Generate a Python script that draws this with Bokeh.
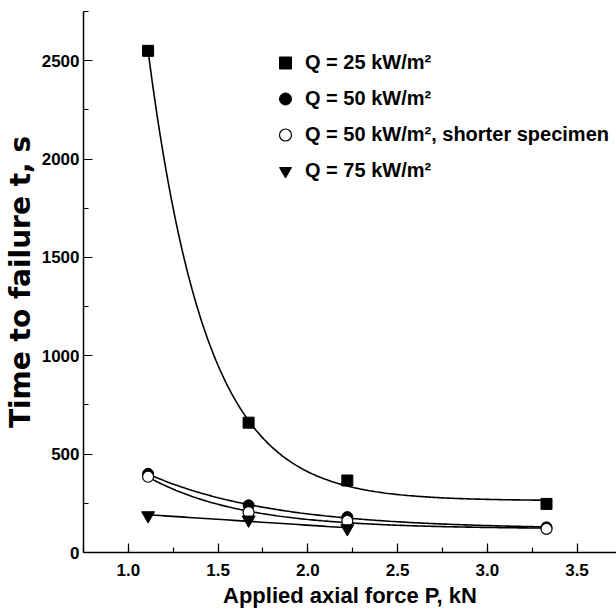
import numpy as np
from bokeh.plotting import figure
from bokeh.models import Range1d, Legend, LegendItem, SingleIntervalTicker, NumeralTickFormatter
from bokeh.embed import file_html
from bokeh.resources import INLINE

# Applied axial force (kN) and measured time to failure (s)
force = [1.11, 1.67, 2.22, 3.33]
t_q25 = [2550, 660, 366, 247]
t_q50 = [400, 240, 180, 128]
t_q50_short = [385, 205, 160, 120]
force_q75 = [1.11, 1.67, 2.22]
t_q75 = [188, 166, 122]

labels = [
    "Q = 25 kW/m²",
    "Q = 50 kW/m²",
    "Q = 50 kW/m², shorter specimen",
    "Q = 75 kW/m²",
]

SANS = "'Liberation Sans', Arial, sans-serif"


def exp_decay_fit(x, y, n=200):
    """Least-squares fit of y = y0 + a*exp(-(x - x0)/tau), scanning tau."""
    x = np.asarray(x, float)
    y = np.asarray(y, float)
    best = None
    for tau in np.linspace(0.05, 3.0, 3000):
        basis = np.column_stack([np.ones_like(x), np.exp(-(x - x[0]) / tau)])
        coef, *_ = np.linalg.lstsq(basis, y, rcond=None)
        err = float(np.sum((basis @ coef - y) ** 2))
        if best is None or err < best[0]:
            best = (err, tau, coef)
    _, tau, (y0, a) = best
    xs = np.linspace(x[0], x[-1], n)
    return xs, y0 + a * np.exp(-(xs - x[0]) / tau)


def linear_fit(x, y, n=50):
    k, b = np.polyfit(np.asarray(x, float), np.asarray(y, float), 1)
    xs = np.linspace(min(x), max(x), n)
    return xs, k * xs + b


p = figure(
    width=616, height=613,
    x_range=Range1d(0.75, 3.72), y_range=Range1d(0, 2750),
    output_backend="svg", toolbar_location=None,
    min_border_left=83, min_border_right=0, min_border_top=11, min_border_bottom=61,
)
p.outline_line_color = None
p.xgrid.visible = False
p.ygrid.visible = False

# fitted curves
for xs_, ys_ in (
    exp_decay_fit(force, t_q25),
    exp_decay_fit(force, t_q50),
    exp_decay_fit(force, t_q50_short),
    linear_fit(force_q75, t_q75),
):
    p.line(xs_, ys_, line_color="black", line_width=1.6)

# measured points
r25 = p.scatter(force, t_q25, marker="square", size=11, fill_color="black", line_color="black")
r50 = p.scatter(force, t_q50, marker="circle", size=11, fill_color="black", line_color="black")
r50s = p.scatter(force, t_q50_short, marker="circle", size=11, fill_color="white", line_color="black", line_width=1.2)
r75 = p.scatter(force_q75, t_q75, marker="inverted_triangle", size=13, fill_color="black", line_color="black")

legend = Legend(
    items=[LegendItem(label=lab, renderers=[r]) for lab, r in zip(labels, [r25, r50, r50s, r75])],
    location=(187, 366),
    border_line_color=None, background_fill_alpha=0,
    label_text_font=SANS, label_text_font_style="bold", label_text_font_size="20px",
    label_text_color="black",
    glyph_width=30, glyph_height=31, label_height=31, spacing=5,
    padding=0, margin=0, label_standoff=5,
)
p.add_layout(legend)

for ax in (p.xaxis[0], p.yaxis[0]):
    ax.axis_line_color = "black"
    ax.axis_line_width = 1.5
    ax.major_tick_line_color = "black"
    ax.minor_tick_line_color = "black"
    ax.major_tick_line_width = 1.2
    ax.minor_tick_line_width = 1.2
    ax.major_tick_in = 9
    ax.major_tick_out = 0
    ax.minor_tick_in = 5
    ax.minor_tick_out = 0
    ax.major_label_text_font = SANS
    ax.major_label_text_font_style = "bold"
    ax.major_label_text_font_size = "17px"
    ax.major_label_text_color = "black"
    ax.axis_label_text_font_style = "bold"
    ax.axis_label_text_color = "black"

p.xaxis.ticker = SingleIntervalTicker(interval=0.5, num_minor_ticks=2)
p.yaxis.ticker = SingleIntervalTicker(interval=500, num_minor_ticks=2)
p.xaxis.formatter = NumeralTickFormatter(format="0.0")
p.yaxis.formatter = NumeralTickFormatter(format="0")

p.xaxis.axis_label = "Applied axial force P, kN"
p.xaxis.axis_label_text_font = SANS
p.xaxis.axis_label_text_font_size = "22px"
p.xaxis.major_label_standoff = 11
p.xaxis.axis_label_standoff = 4

p.yaxis.axis_label = "Time to failure t, s"
p.yaxis.axis_label_text_font = "DejaVu Sans"
p.yaxis.axis_label_text_font_size = "28px"
p.yaxis.major_label_standoff = 4
p.yaxis.axis_label_standoff = 2

open("out.html", "w").write(file_html(p, INLINE))
